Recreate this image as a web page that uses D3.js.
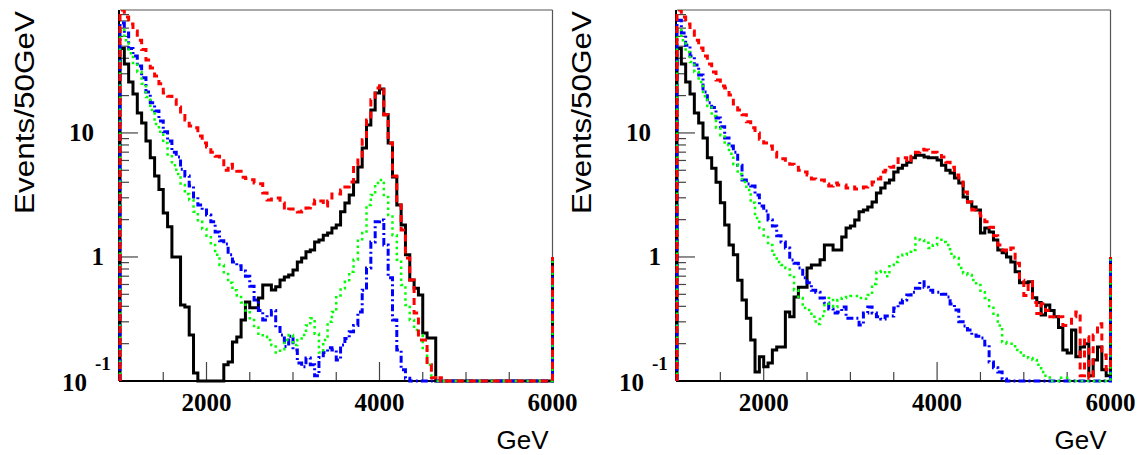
<!DOCTYPE html>
<html>
<head>
<meta charset="utf-8">
<script src="https://cdn.jsdelivr.net/npm/d3@7"></script>
<style>
  body { margin: 0; background: #fff; }
  svg { display: block; }
</style>
</head>
<body>
<svg width="1144" height="455"></svg>
<script>
// binning: 50 GeV bins from 1000 to 6000 GeV
const binStart = 1000;
const binWidth = 50;
const xMax = 6000;
const yMin = 0.1;
const yMax = 98;
const edgeTop = 1; // the vertical closing line drawn at 6000 GeV

const xMajorTicks = [2000, 4000, 6000];
const xMinorTicks = [1500, 2500, 3000, 3500, 4500, 5000, 5500];
const yMajorTicks = [0.1, 1, 10];
const yMinorTicks = [0.2, 0.3, 0.4, 0.5, 0.6, 0.7, 0.8, 0.9, 2, 3, 4, 5, 6, 7, 8, 9, 20, 30, 40, 50, 60, 70, 80, 90];

// left panel
const leftBlack = [
  48, 36, 25.8, 20.6, 14.5, 12, 8.6, 6.3, 4.5, 3.5,
  2.26, 1.75, 1.0, 1.0, 0.41, 0.395, 0.235, 0.116, 0, 0,
  0, 0, 0, 0, 0.135, 0.142, 0.206, 0.226, 0.31, 0.434,
  0.39, 0.39, 0.467, 0.595, 0.595, 0.542, 0.576, 0.653, 0.69, 0.716,
  0.786, 0.91, 0.98, 1.1, 1.14, 1.32, 1.37, 1.5, 1.56, 1.71,
  1.81, 2.31, 2.72, 3.16, 4.02, 5.32, 7.56, 11.6, 15.3, 21.0,
  22.6, 14.0, 8.3, 4.42, 2.63, 1.81, 1.04, 0.653, 0.56, 0.494,
  0.244, 0.222, 0.222, 0, 0, 0, 0, 0, 0, 0,
  0, 0, 0, 0, 0, 0, 0, 0, 0, 0,
  0, 0, 0, 0, 0, 0, 0, 0, 0, 0
];
const leftRed = [
  105, 86, 75.7, 66.5, 56, 47, 38.8, 33.4, 28.8, 24.9,
  21.0, 19.8, 18.5, 16.2, 14.2, 12.7, 11.4, 11.0, 9.45, 8.3,
  7.7, 7.0, 6.5, 6.2, 5.0, 5.6, 5.2, 4.9, 4.4, 4.3,
  4.2, 3.95, 3.9, 3.28, 2.88, 2.93, 2.99, 2.72, 2.39, 2.44,
  2.44, 2.3, 2.35, 2.48, 2.67, 2.88, 2.83, 2.58, 2.83, 3.22,
  3.22, 3.47, 3.67, 4.02, 5.53, 6.3, 8.8, 12.7, 18.5, 23,
  24, 14, 8.3, 4.5, 2.63, 1.65, 0.98, 0.653, 0.354, 0.214,
  0.214, 0.135, 0.106, 0, 0.106, 0, 0, 0, 0, 0,
  0, 0, 0, 0, 0, 0, 0, 0, 0, 0,
  0, 0, 0, 0, 0, 0, 0, 0, 0, 0
];
const leftGreen = [
  67.7, 56, 44, 36.6, 31, 24.9, 19.5, 15.3, 11.8, 10.2,
  8.3, 6.5, 5.5, 4.67, 3.8, 3.22, 2.88, 2.31, 1.92, 1.68,
  1.48, 1.25, 1.04, 0.86, 0.73, 0.62, 0.54, 0.49, 0.43, 0.37,
  0.31, 0.27, 0.24, 0.227, 0.214, 0.195, 0.17, 0.18, 0.214, 0.235,
  0.195, 0.214, 0.235, 0.28, 0.32, 0.24, 0.17, 0.214, 0.30, 0.36,
  0.49, 0.56, 0.63, 0.76, 0.95, 1.35, 1.56, 2.63, 3.16, 3.95,
  4.18, 3.05, 2.18, 1.5, 0.95, 0.595, 0.41, 0.31, 0.258, 0.235,
  0.178, 0.135, 0.11, 0, 0, 0, 0, 0, 0, 0,
  0, 0, 0, 0, 0, 0, 0, 0, 0, 0,
  0, 0, 0, 0, 0, 0, 0, 0, 0, 0
];
const leftBlue = [
  77, 64, 48, 41.7, 34.6, 27.8, 21.4, 17.5, 15, 12.5,
  10.2, 8.6, 7.0, 6.4, 5.1, 4.5, 3.74, 3.05, 2.63, 2.39,
  2.18, 1.92, 1.59, 1.35, 1.27, 1.04, 0.91, 0.85, 0.77, 0.70,
  0.58, 0.45, 0.37, 0.31, 0.34, 0.37, 0.27, 0.235, 0.19, 0.23,
  0.178, 0.14, 0.13, 0.153, 0.135, 0.11, 0.155, 0.17, 0.185, 0.178,
  0.148, 0.195, 0.22, 0.25, 0.28, 0.36, 0.54, 0.815, 1.32, 1.92,
  1.99, 1.25, 0.68, 0.31, 0.178, 0.123, 0.105, 0, 0, 0,
  0, 0, 0, 0, 0, 0, 0, 0, 0, 0,
  0, 0, 0, 0, 0, 0, 0, 0, 0, 0,
  0, 0, 0, 0, 0, 0, 0, 0, 0, 0
];

// right panel
const rightBlack = [
  48, 36, 25.8, 20.6, 14.5, 12, 9.1, 6.3, 5.2, 4.0,
  2.73, 1.81, 1.25, 1.04, 0.65, 0.45, 0.32, 0.214, 0.118, 0.157,
  0.13, 0.14, 0.178, 0.188, 0.188, 0.36, 0.33, 0.476, 0.57, 0.57,
  0.815, 0.86, 0.86, 0.95, 1.25, 1.25, 1.14, 1.14, 1.45, 1.71,
  1.78, 1.99, 2.31, 2.39, 2.53, 2.78, 3.28, 3.6, 3.95, 4.18,
  4.85, 5.2, 5.5, 5.8, 6.3, 6.6, 6.6, 6.4, 6.3, 6.3,
  6.06, 5.5, 5.0, 4.75, 4.33, 3.95, 3.05, 2.78, 2.53, 2.39,
  1.56, 1.71, 1.59, 1.37, 1.14, 1.08, 1.0, 0.91, 0.76, 0.62,
  0.62, 0.63, 0.47, 0.43, 0.34, 0.41, 0.37, 0.33, 0.27, 0.178,
  0.168, 0.258, 0.157, 0.188, 0.2, 0.11, 0.148, 0.188, 0.123, 0.11
];
const rightRed = [
  105, 86, 75.7, 66.5, 56, 48.5, 41.7, 36, 31, 26.7,
  23.9, 23, 20.2, 17.1, 15.3, 14, 12.3, 11, 10, 8.9,
  8.3, 7.86, 7.0, 6.4, 6.2, 5.8, 5.6, 5.3, 5.0, 4.85,
  4.58, 4.25, 4.18, 4.18, 3.88, 3.74, 3.95, 3.81, 3.81, 3.6,
  3.67, 3.53, 3.6, 3.67, 3.81, 4.02, 4.25, 4.85, 5.0, 5.3,
  5.6, 6.2, 6.3, 5.8, 6.5, 7.0, 7.4, 7.3, 7.0, 7.0,
  6.8, 6.4, 5.8, 5.3, 4.58, 4.02, 3.34, 2.78, 2.39, 2.26,
  2.14, 1.92, 1.74, 1.48, 1.25, 1.14, 1.1, 1.18, 0.89, 0.65,
  0.49, 0.63, 0.43, 0.35, 0.42, 0.37, 0.33, 0.32, 0.33, 0.28,
  0.28, 0.33, 0.36, 0.11, 0.227, 0.105, 0.235, 0.29, 0.162, 0.123
];
const rightGreen = [
  67.7, 56, 45, 37.3, 31, 25.8, 19.8, 16.5, 13.7, 11,
  9.6, 8.0, 6.8, 5.6, 4.67, 4.02, 3.47, 2.73, 2.06, 1.71,
  1.45, 1.25, 1.04, 0.91, 0.86, 0.815, 0.716, 0.54, 0.467, 0.388,
  0.374, 0.33, 0.288, 0.334, 0.41, 0.467, 0.395, 0.45, 0.467, 0.476,
  0.485, 0.485, 0.467, 0.46, 0.494, 0.606, 0.757, 0.77, 0.70, 0.86,
  0.91, 1.0, 1.04, 1.1, 1.14, 1.42, 1.37, 1.3, 1.18, 1.25,
  1.42, 1.32, 1.25, 1.06, 0.98, 0.815, 0.74, 0.716, 0.653, 0.595,
  0.52, 0.467, 0.40, 0.34, 0.28, 0.206, 0.2, 0.2, 0.178, 0.17,
  0.16, 0.153, 0.148, 0.135, 0.118, 0.11, 0, 0, 0.106, 0.106,
  0, 0, 0, 0, 0, 0, 0, 0, 0, 0
];
const rightBlue = [
  81, 64, 51, 41.7, 35.3, 29.3, 21.4, 17.5, 16, 13.2,
  11.2, 9.1, 7.86, 7.0, 5.5, 4.18, 3.88, 3.74, 3.16, 2.58,
  2.35, 1.99, 1.78, 1.48, 1.32, 1.18, 0.946, 0.89, 0.815, 0.68,
  0.62, 0.54, 0.52, 0.467, 0.425, 0.38, 0.354, 0.36, 0.395, 0.32,
  0.32, 0.32, 0.283, 0.354, 0.395, 0.354, 0.33, 0.316, 0.334, 0.334,
  0.388, 0.425, 0.45, 0.494, 0.52, 0.56, 0.63, 0.57, 0.54, 0.52,
  0.52, 0.5, 0.476, 0.418, 0.374, 0.3, 0.278, 0.258, 0.235, 0.23,
  0.222, 0.195, 0.142, 0.128, 0.118, 0.104, 0, 0, 0, 0,
  0, 0, 0, 0, 0, 0, 0, 0, 0, 0,
  0, 0, 0, 0, 0, 0, 0, 0, 0, 0
];

const lineStyles = {
  black: { color: "#000000", width: 3, dash: null },
  blue: { color: "#0000ff", width: 3, dash: "7,3,2,3" },
  green: { color: "#00ff00", width: 2.5, dash: "2.5,3.5" },
  red: { color: "#ff0000", width: 3, dash: "7,5" }
};

const panels = [
  { x0: 120, x1: 552.5, series: { black: leftBlack, blue: leftBlue, green: leftGreen, red: leftRed } },
  { x0: 677, x1: 1110.5, series: { black: rightBlack, blue: rightBlue, green: rightGreen, red: rightRed } }
];

const plotTop = 10;
const plotBottom = 381;

const svg = d3.select("svg");
svg.append("rect").attr("width", 1144).attr("height", 455).attr("fill", "#fff");

panels.forEach((p, pi) => {
  const x = d3.scaleLinear().domain([binStart, xMax]).range([p.x0, p.x1]);
  const y = d3.scaleLog().domain([yMin, yMax]).range([plotBottom, plotTop]).clamp(true);
  const g = svg.append("g");

  // frame: top and right thin grey
  g.append("line").attr("x1", p.x0).attr("x2", p.x1).attr("y1", plotTop).attr("y2", plotTop)
    .attr("stroke", "#555").attr("stroke-width", 1.2);
  g.append("line").attr("x1", p.x1).attr("x2", p.x1).attr("y1", plotTop).attr("y2", plotBottom)
    .attr("stroke", "#555").attr("stroke-width", 1.2);

  // x ticks (inward)
  g.selectAll(".xmaj").data(xMajorTicks).join("line")
    .attr("x1", d => x(d)).attr("x2", d => x(d))
    .attr("y1", plotBottom).attr("y2", plotBottom - 19)
    .attr("stroke", "#444").attr("stroke-width", 1.2);
  g.selectAll(".xmin").data(xMinorTicks).join("line")
    .attr("x1", d => x(d)).attr("x2", d => x(d))
    .attr("y1", plotBottom).attr("y2", plotBottom - 9)
    .attr("stroke", "#444").attr("stroke-width", 1.2);

  // y ticks (inward)
  g.selectAll(".ymaj").data(yMajorTicks).join("line")
    .attr("x1", p.x0).attr("x2", p.x0 + 18)
    .attr("y1", d => y(d)).attr("y2", d => y(d))
    .attr("stroke", "#444").attr("stroke-width", 1.2);
  g.selectAll(".ymin").data(yMinorTicks.filter(d => d < yMax)).join("line")
    .attr("x1", p.x0).attr("x2", p.x0 + 9)
    .attr("y1", d => y(d)).attr("y2", d => y(d))
    .attr("stroke", "#444").attr("stroke-width", 1.2);

  // axis lines
  g.append("line").attr("x1", p.x0 - 1).attr("x2", p.x1).attr("y1", plotBottom).attr("y2", plotBottom)
    .attr("stroke", "#000").attr("stroke-width", 2);
  g.append("line").attr("x1", p.x0 - 1).attr("x2", p.x0 - 1).attr("y1", plotTop).attr("y2", plotBottom)
    .attr("stroke", "#000").attr("stroke-width", 2);

  // histograms
  const clipId = "clip" + pi;
  svg.append("clipPath").attr("id", clipId).append("rect")
    .attr("x", p.x0 - 4).attr("y", plotTop).attr("width", p.x1 - p.x0 + 8).attr("height", plotBottom - plotTop + 3);

  const stepPath = values => {
    const yb = y(yMin);
    let d = `M${x(binStart)},${yb}`;
    values.forEach((v, i) => {
      const yv = y(Math.max(v, yMin));
      d += `L${x(binStart + i * binWidth)},${yv}L${x(binStart + (i + 1) * binWidth)},${yv}`;
    });
    d += `L${x(xMax)},${y(edgeTop)}`;
    return d;
  };

  const hg = svg.append("g").attr("clip-path", `url(#${clipId})`);
  ["black", "blue", "green", "red"].forEach(k => {
    const s = lineStyles[k];
    hg.append("path")
      .attr("d", stepPath(p.series[k]))
      .attr("fill", "none")
      .attr("stroke", s.color)
      .attr("stroke-width", s.width)
      .attr("stroke-dasharray", s.dash)
      .attr("stroke-linejoin", "miter")
      .attr("stroke-linecap", "butt");
  });

  // x tick labels
  g.selectAll(".xlab").data(xMajorTicks).join("text")
    .attr("x", d => x(d)).attr("y", 411)
    .attr("text-anchor", "middle")
    .attr("font-family", "Liberation Serif, serif")
    .attr("font-weight", "bold")
    .attr("font-size", 25)
    .text(d => d);

  // y tick labels
  const serif = "Liberation Serif, serif";
  g.append("text").attr("x", p.x0 - 26).attr("y", y(10) + 8.5)
    .attr("text-anchor", "end").attr("font-family", serif)
    .attr("font-weight", "bold").attr("font-size", 25).text("10");
  g.append("text").attr("x", p.x0 - 16).attr("y", y(1) + 8.5)
    .attr("text-anchor", "end").attr("font-family", serif)
    .attr("font-weight", "bold").attr("font-size", 25).text("1");
  g.append("text").attr("x", p.x0 - 33).attr("y", y(0.1) + 10)
    .attr("text-anchor", "end").attr("font-family", serif)
    .attr("font-weight", "bold").attr("font-size", 25).text("10");
  g.append("text").attr("x", p.x0 - 25).attr("y", y(0.1) - 11)
    .attr("text-anchor", "start").attr("font-family", serif)
    .attr("font-weight", "bold").attr("font-size", 19).text("-1");

  // axis titles
  g.append("text").attr("x", p.x1 - 4).attr("y", 449)
    .attr("text-anchor", "end")
    .attr("font-family", "Liberation Sans, sans-serif")
    .attr("font-size", 26)
    .text("GeV");
  g.append("text")
    .attr("transform", `translate(${p.x0 - 86},214) rotate(-90)`)
    .attr("text-anchor", "start")
    .attr("font-family", "Liberation Sans, sans-serif")
    .attr("font-size", 27)
    .attr("textLength", 203)
    .attr("lengthAdjust", "spacingAndGlyphs")
    .text("Events/50GeV");
});
</script>
</body>
</html>
